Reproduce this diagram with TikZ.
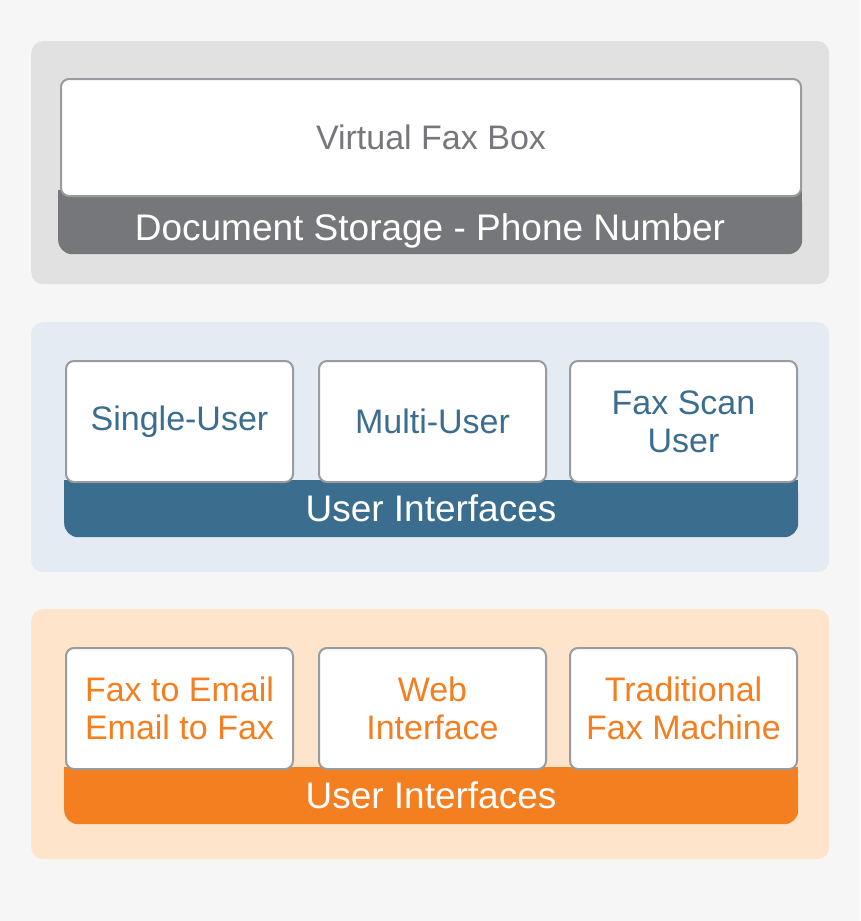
\documentclass[tikz,border=0pt]{standalone}
\usepackage{fontspec}
\setmainfont{Liberation Sans}
\definecolor{pagebg}{HTML}{F6F6F6}
\definecolor{boxline}{HTML}{9A9B9E}
\definecolor{graypanel}{HTML}{E0E1E0}
\definecolor{grayband}{HTML}{76777A}
\definecolor{bluepanel}{HTML}{E4EBF2}
\definecolor{blueband}{HTML}{3B6E8E}
\definecolor{orangepanel}{HTML}{FDE4CB}
\definecolor{orangeband}{HTML}{F47F20}
\begin{document}
\begin{tikzpicture}[x=1pt,y=-1pt,
  panel/.style={rounded corners=12pt,inner sep=0pt,anchor=north west,
    minimum width=798pt,minimum height=#1},
  band/.style={rounded corners=14pt,inner sep=0pt,anchor=north west,
    minimum width=734pt,minimum height=57pt},
  card/.style={draw=boxline,line width=2pt,fill=white,rounded corners=8pt,
    inner sep=0pt,anchor=north west,align=center,
    minimum width=227pt,minimum height=121pt,
    font=\fontsize{34}{38}\selectfont},
  bandtext/.style={text=white,anchor=base,font=\fontsize{37}{40}\selectfont}]
\useasboundingbox (0,0) rectangle (860,921);
\fill[pagebg] (0,0) rectangle (860,921);
% storage
\node[panel=243pt,fill=graypanel] (storage) at (31,41) {};
\node[band,fill=grayband,minimum width=744pt,minimum height=64pt] (storageband) at (58,190) {};
\fill[grayband] (storageband.north west) rectangle (storageband.east);
\node[card,text=grayband,minimum width=740pt,minimum height=117pt] (faxbox) at (60,78) {Virtual Fax Box};
\node[bandtext] (storagelabel) at (430,240) {Document Storage - Phone Number};
% user interfaces
\node[panel=250pt,fill=bluepanel] (users) at (31,322) {};
\node[band,fill=blueband] (usersband) at (64,480) {};
\fill[blueband] (usersband.north west) rectangle (usersband.east);
\node[card,text=blueband] (single) at (65,360) {Single-User};
\node[card,text=blueband] (multi) at (318,360) {Multi-User};
\node[card,text=blueband] (scan) at (569,360) {Fax Scan\\User};
\node[bandtext] (userslabel) at (431,521) {User Interfaces};
% access
\node[panel=250pt,fill=orangepanel] (access) at (31,609) {};
\node[band,fill=orangeband] (accessband) at (64,767) {};
\fill[orangeband] (accessband.north west) rectangle (accessband.east);
\node[card,text=orangeband] (email) at (65,647) {Fax to Email\\Email to Fax};
\node[card,text=orangeband] (web) at (318,647) {Web\\Interface};
\node[card,text=orangeband] (machine) at (569,647) {Traditional\\Fax Machine};
\node[bandtext] (accesslabel) at (431,808) {User Interfaces};
\end{tikzpicture}
\end{document}
